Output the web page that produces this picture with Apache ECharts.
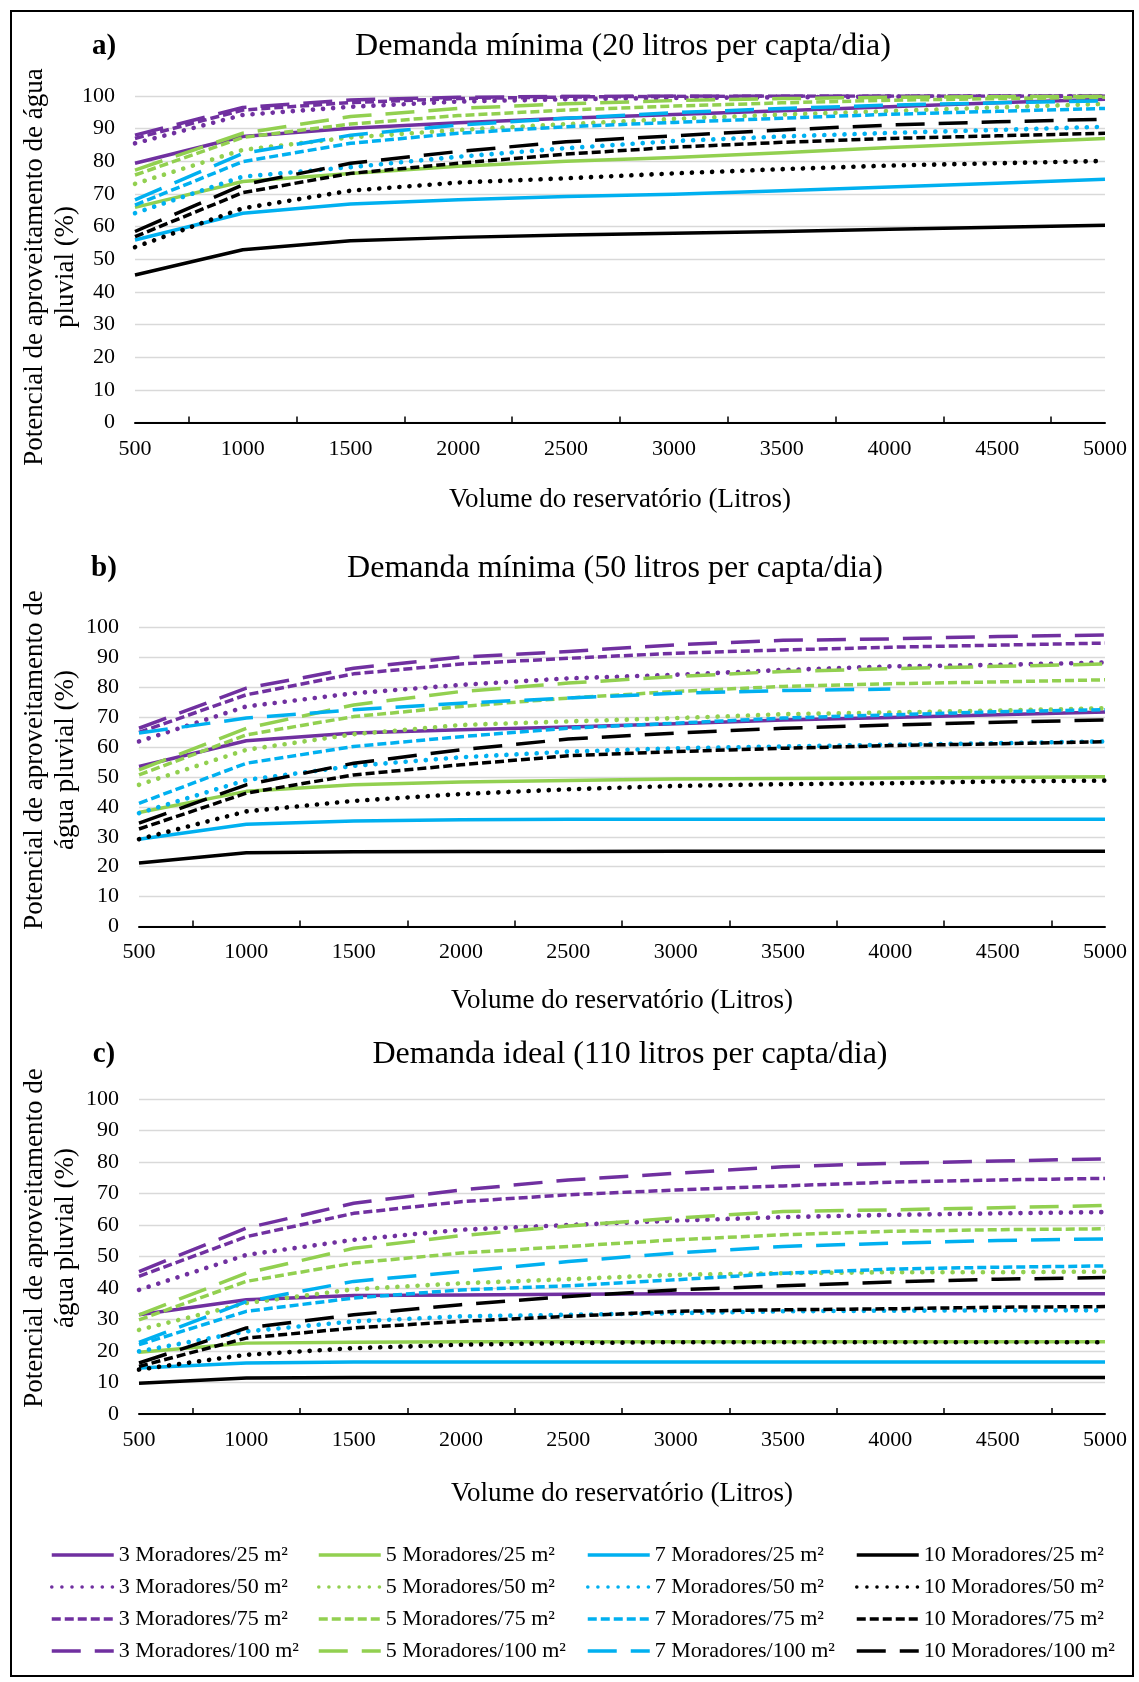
<!DOCTYPE html>
<html>
<head>
<meta charset="utf-8">
<script src="https://cdn.jsdelivr.net/npm/echarts@6.0.0/dist/echarts.min.js"></script>
<style>
html, body { margin: 0; padding: 0; background: #ffffff; }
#chart { width: 1139px; height: 1682px; }
</style>
</head>
<body>
<div id="chart"></div>
<script>
// ---------------- DATA ----------------
const volumes = [500, 1000, 1500, 2000, 2500, 3000, 3500, 4000, 4500, 5000];
const moradores = [3, 5, 7, 10];
const areas = [25, 50, 75, 100];

const panelTitles = [
  'Demanda mínima (20 litros per capta/dia)',
  'Demanda mínima (50 litros per capta/dia)',
  'Demanda ideal (110 litros per capta/dia)'
];
const panelLetters = ['a)', 'b)', 'c)'];
const yNames = [
  'Potencial de aproveitamento de água\npluvial (%)',
  'Potencial de aproveitamento de\nágua pluvial (%)',
  'Potencial de aproveitamento de\nágua pluvial (%)'
];
const xName = 'Volume do reservatório (Litros)';

// Panel a) 20 L per capita/day
const a3_25  = [79.4, 87.6, 90.1, 91.8, 93.2, 94.3, 95.5, 96.7, 97.9, 99.0];
const a3_50  = [85.5, 94.2, 96.7, 98.3, 99.0, 99.4, 99.6, 99.8, 99.9, 100];
const a3_75  = [87.0, 95.7, 98.0, 99.2, 99.7, 99.9, 100, 100, 100, 100];
const a3_100 = [88.0, 96.5, 98.8, 99.6, 99.9, 100, 100, 100, 100, 100];
const a5_25  = [65.9, 73.8, 76.3, 78.5, 80.0, 81.2, 82.6, 84.2, 85.6, 87.0];
const a5_50  = [73.1, 83.5, 87.3, 89.6, 91.4, 93.0, 94.3, 95.4, 96.5, 97.6];
const a5_75  = [75.8, 87.3, 91.4, 94.0, 95.7, 96.9, 97.9, 98.7, 99.2, 99.6];
const a5_100 = [77.3, 88.6, 93.7, 96.2, 97.6, 98.6, 99.2, 99.6, 99.8, 99.9];
const a7_25  = [55.9, 64.1, 66.9, 68.2, 69.2, 69.9, 71.0, 72.1, 73.3, 74.5];
const a7_50  = [64.1, 75.3, 78.2, 81.4, 84.0, 86.2, 87.6, 88.7, 89.6, 90.6];
const a7_75  = [66.6, 79.9, 85.5, 88.6, 90.6, 91.9, 93.2, 94.4, 95.3, 96.2];
const a7_100 = [68.2, 82.4, 88.0, 91.1, 93.2, 94.9, 96.2, 97.2, 97.9, 98.5];
const a10_25  = [45.2, 52.9, 55.7, 56.7, 57.4, 58.0, 58.5, 59.2, 59.8, 60.4];
const a10_50  = [53.7, 65.6, 71.0, 73.5, 74.8, 76.3, 77.6, 78.7, 79.4, 80.1];
const a10_75  = [56.9, 70.4, 76.3, 79.4, 82.2, 84.3, 85.8, 87.0, 87.8, 88.6];
const a10_100 = [58.5, 72.8, 79.4, 83.0, 86.0, 87.8, 89.6, 91.1, 92.1, 92.9];

// Panel b) 50 L per capita/day
const b3_25  = [53.5, 62.1, 64.7, 65.8, 66.7, 67.8, 69.1, 69.9, 70.8, 71.7];
const b3_50  = [61.9, 73.6, 78.0, 80.8, 83.0, 84.2, 85.8, 87.0, 87.5, 88.3];
const b3_75  = [64.9, 77.5, 84.5, 87.8, 89.7, 91.4, 92.5, 93.4, 94.1, 94.8];
const b3_100 = [66.3, 79.7, 86.4, 90.1, 92.0, 94.2, 95.7, 96.2, 97.0, 97.5];
const b5_25  = [38.1, 45.2, 47.4, 48.3, 48.8, 49.3, 49.5, 49.7, 49.8, 50.1];
const b5_50  = [47.4, 59.1, 64.3, 67.4, 68.6, 69.7, 71.0, 71.6, 72.2, 73.0];
const b5_75  = [50.7, 64.1, 70.2, 73.6, 76.4, 78.6, 80.3, 81.2, 81.8, 82.5];
const b5_100 = [52.4, 66.3, 74.1, 78.6, 81.4, 83.6, 85.3, 86.2, 87.0, 87.8];
const b7_25  = [29.2, 34.2, 35.3, 35.7, 35.9, 35.9, 35.9, 35.9, 35.9, 35.9];
const b7_50  = [37.9, 49.0, 53.7, 56.6, 58.5, 59.6, 60.2, 60.8, 61.3, 61.9];
const b7_75  = [41.2, 54.6, 60.2, 63.5, 66.3, 68.0, 69.7, 70.8, 71.8, 72.5];
const b7_100 = [64.7, 69.7, 72.5, 74.7, 76.4, 78.0, 78.9, 79.4, null, null];
const b10_25  = [21.2, 24.7, 25.0, 25.1, 25.1, 25.2, 25.2, 25.2, 25.2, 25.2];
const b10_50  = [29.2, 38.5, 42.0, 44.3, 45.9, 47.0, 47.6, 47.9, 48.5, 48.8];
const b10_75  = [32.6, 44.6, 50.7, 54.1, 57.1, 58.5, 59.6, 60.5, 61.1, 61.8];
const b10_100 = [34.6, 47.4, 54.6, 59.1, 62.7, 64.7, 66.3, 67.4, 68.3, 69.1];

// Panel c) 110 L per capita/day
const c3_25  = [31.5, 36.3, 37.6, 37.8, 38.0, 38.2, 38.2, 38.2, 38.2, 38.2];
const c3_50  = [39.4, 50.5, 55.3, 58.5, 60.0, 61.4, 62.5, 63.2, 63.7, 64.1];
const c3_75  = [43.7, 56.3, 63.7, 67.4, 69.6, 71.1, 72.4, 73.6, 74.3, 74.8];
const c3_100 = [45.2, 59.0, 66.9, 71.1, 74.3, 76.4, 78.5, 79.6, 80.3, 81.0];
const c5_25  = [19.6, 22.5, 22.8, 22.9, 22.9, 22.9, 22.9, 22.9, 22.9, 22.9];
const c5_50  = [26.7, 35.2, 39.6, 41.5, 42.8, 44.2, 44.7, 45.0, 45.0, 45.2];
const c5_75  = [29.9, 42.1, 47.9, 51.1, 53.2, 55.3, 56.9, 58.0, 58.5, 58.8];
const c5_100 = [31.5, 44.7, 52.6, 56.6, 59.7, 62.2, 64.3, 64.8, 65.5, 66.2];
const c7_25  = [14.6, 16.2, 16.5, 16.5, 16.5, 16.5, 16.5, 16.5, 16.5, 16.5];
const c7_50  = [19.9, 26.2, 29.4, 31.0, 31.5, 32.0, 32.6, 32.8, 32.9, 32.9];
const c7_75  = [22.0, 32.6, 36.8, 39.4, 40.7, 42.6, 44.7, 46.0, 46.6, 47.0];
const c7_100 = [22.7, 35.7, 42.1, 45.2, 48.4, 51.1, 53.2, 54.2, 55.1, 55.6];
const c10_25  = [9.8, 11.4, 11.6, 11.6, 11.6, 11.6, 11.6, 11.6, 11.6, 11.6];
const c10_50  = [14.1, 18.8, 20.9, 22.0, 22.5, 22.8, 22.8, 22.8, 22.8, 22.8];
const c10_75  = [15.1, 24.1, 27.3, 29.4, 31.0, 32.6, 33.1, 33.4, 33.9, 34.1];
const c10_100 = [16.2, 27.3, 31.5, 34.7, 37.3, 39.4, 40.7, 41.9, 42.8, 43.3];

const panelData = [
  [[a3_25, a3_50, a3_75, a3_100], [a5_25, a5_50, a5_75, a5_100], [a7_25, a7_50, a7_75, a7_100], [a10_25, a10_50, a10_75, a10_100]],
  [[b3_25, b3_50, b3_75, b3_100], [b5_25, b5_50, b5_75, b5_100], [b7_25, b7_50, b7_75, b7_100], [b10_25, b10_50, b10_75, b10_100]],
  [[c3_25, c3_50, c3_75, c3_100], [c5_25, c5_50, c5_75, c5_100], [c7_25, c7_50, c7_75, c7_100], [c10_25, c10_50, c10_75, c10_100]]
];

// ---------------- STYLE / LAYOUT ----------------
const FONT = "'Liberation Serif', 'Times New Roman', serif";
const groupColors = ['#7030A0', '#92D050', '#00B0F0', '#000000'];
const areaStyles = [
  { type: 'solid', cap: 'butt', width: 3.5 },
  { type: [0.1, 10], cap: 'round', width: 4.6 },
  { type: [9, 4], cap: 'butt', width: 3.5 },
  { type: [29, 14], cap: 'butt', width: 3.5 }
];
const grids = [
  { left: 135, right: 34, top: 96, height: 326.5 },
  { left: 139, right: 34, top: 627.5, height: 299 },
  { left: 139, right: 34, top: 1099, height: 315 }
];
const xNameGaps = [64, 61, 66];
const labelMargins = [16, 15, 15];
const headerY = [47, 569, 1055];
const titleX = [623, 615, 630];
const yNameY = [267, 760, 1238];

const seriesName = (m, ar) => m + ' Moradores/' + ar + ' m²';

const series = [];
panelData.forEach((groups, p) => {
  groups.forEach((arrs, gi) => {
    arrs.forEach((vals, ai) => {
      const st = areaStyles[ai];
      series.push({
        type: 'line',
        name: seriesName(moradores[gi], areas[ai]),
        xAxisIndex: p,
        yAxisIndex: p,
        symbol: 'none',
        showSymbol: false,
        smooth: false,
        connectNulls: false,
        silent: true,
        animation: false,
        lineStyle: { color: groupColors[gi], width: st.width, type: st.type, cap: st.cap, join: 'round' },
        itemStyle: { color: groupColors[gi] },
        data: volumes.map((v, i) => [v, vals[i]])
      });
    });
  });
});

const xAxes = grids.map((g, p) => ({
  type: 'value',
  gridIndex: p,
  min: 500, max: 5000, interval: 500,
  axisLine: { show: true, onZero: false, lineStyle: { color: '#000', width: 2 } },
  axisTick: { show: false, inside: true },
  minorTick: { show: true, splitNumber: 2, length: 6, lineStyle: { color: '#000', width: 1.5 } },
  splitLine: { show: false },
  minorSplitLine: { show: false },
  axisLabel: { show: true, color: '#000', fontFamily: FONT, fontSize: 22, margin: labelMargins[p], showMinLabel: true, showMaxLabel: true, formatter: v => String(v) },
  name: xName,
  nameLocation: 'middle',
  nameGap: xNameGaps[p],
  nameTextStyle: { color: '#000', fontFamily: FONT, fontSize: 27 }
}));

const yAxes = grids.map((g, p) => ({
  type: 'value',
  gridIndex: p,
  min: 0, max: 100, interval: 10,
  axisLine: { show: false },
  axisTick: { show: false },
  splitLine: { show: true, lineStyle: { color: '#D9D9D9', width: 1.3 } },
  axisLabel: { show: true, color: '#000', fontFamily: FONT, fontSize: 22, margin: 20, showMinLabel: true, showMaxLabel: true, formatter: v => String(v) }
}));

const legendLefts = [50, 317, 586, 855];
const legends = moradores.map((m, gi) => ({
  orient: 'vertical',
  left: legendLefts[gi],
  top: 1544,
  padding: 0,
  itemGap: 10,
  itemWidth: 62,
  itemHeight: 14,
  selectedMode: false,
  data: areas.map(ar => seriesName(m, ar)),
  textStyle: { color: '#000', fontFamily: FONT, fontSize: 22, lineHeight: 22 },
  itemStyle: { opacity: 0 },
  lineStyle: { width: 3.5 }
}));

const graphics = [
  { type: 'rect', shape: { x: 11, y: 11, width: 1122, height: 1665 }, style: { fill: 'none', stroke: '#000', lineWidth: 2 }, silent: true, z: 100 }
];
panelTitles.forEach((t, p) => {
  graphics.push({ type: 'text', x: 104, y: headerY[p], style: { text: panelLetters[p], fill: '#000', font: 'bold 29px ' + FONT, align: 'center', verticalAlign: 'middle' }, silent: true });
  graphics.push({ type: 'text', x: titleX[p], y: headerY[p], style: { text: t, fill: '#000', font: '32px ' + FONT, align: 'center', verticalAlign: 'middle' }, silent: true });
  graphics.push({ type: 'text', x: 50.5, y: yNameY[p], rotation: Math.PI / 2, style: { text: yNames[p], fill: '#000', font: '27px ' + FONT, align: 'center', verticalAlign: 'middle', lineHeight: 31 }, silent: true });
});

const chart = echarts.init(document.getElementById('chart'), null, { renderer: 'canvas' });
chart.setOption({
  animation: false,
  backgroundColor: '#ffffff',
  grid: grids.map(g => Object.assign({ containLabel: false, outerBoundsMode: 'none' }, g)),
  xAxis: xAxes,
  yAxis: yAxes,
  legend: legends,
  graphic: graphics,
  series: series
});
</script>
</body>
</html>
